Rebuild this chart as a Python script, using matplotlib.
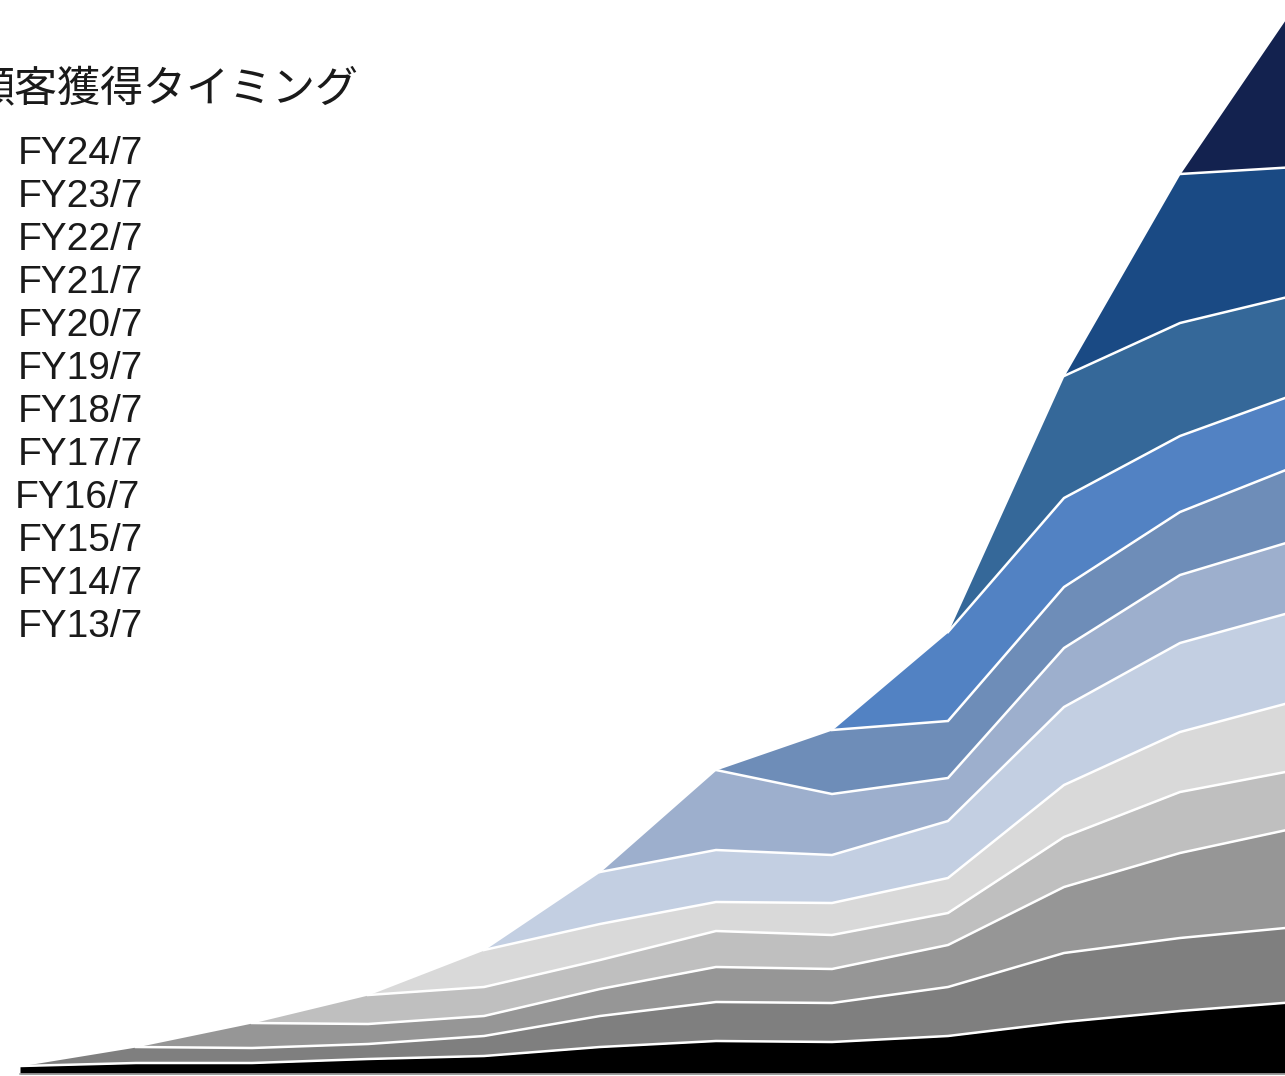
import matplotlib
matplotlib.use("Agg")
import matplotlib.pyplot as plt
import numpy as np

plt.rcParams['font.family'] = ['Liberation Sans', 'Noto Sans CJK JP', 'DejaVu Sans']

# x positions (fiscal years, index 0..11)
periods = ["FY13/7", "FY14/7", "FY15/7", "FY16/7", "FY17/7", "FY18/7",
           "FY19/7", "FY20/7", "FY21/7", "FY22/7", "FY23/7", "FY24/7"]

# cohort values per period (customer-acquisition cohort), 0 before the cohort exists
fy13 = [8, 11, 11, 15, 18, 27, 33, 32, 38, 52, 63, 72]
fy14 = [0, 16, 15, 15, 20, 31, 39, 39, 49, 69, 73, 75]
fy15 = [0, 0, 25, 20, 20, 27, 35, 34, 42, 66, 85, 99]
fy16 = [0, 0, 0, 29, 29, 29, 36, 34, 32, 50, 61, 58]
fy17 = [0, 0, 0, 0, 37, 36, 29, 32, 35, 52, 60, 69]
fy18 = [0, 0, 0, 0, 0, 52, 52, 48, 57, 78, 89, 90]
fy19 = [0, 0, 0, 0, 0, 0, 80, 61, 43, 59, 68, 71]
fy20 = [0, 0, 0, 0, 0, 0, 0, 64, 57, 61, 63, 74]
fy21 = [0, 0, 0, 0, 0, 0, 0, 0, 89, 89, 76, 72]
fy22 = [0, 0, 0, 0, 0, 0, 0, 0, 0, 122, 113, 99]
fy23 = [0, 0, 0, 0, 0, 0, 0, 0, 0, 0, 149, 128]
fy24 = [0, 0, 0, 0, 0, 0, 0, 0, 0, 0, 0, 163]

series = [fy13, fy14, fy15, fy16, fy17, fy18, fy19, fy20, fy21, fy22, fy23, fy24]
labels = periods
colors = ["#000000", "#7f7f7f", "#969696", "#bfbfbf", "#d9d9d9", "#c3cfe2",
          "#9dafcd", "#6e8db8", "#5282c3", "#356899", "#1a4a84", "#13224f"]

legend_title = "顧客獲得タイミング"

W, H = 1285, 1076
fig = plt.figure(figsize=(W / 100, H / 100), dpi=100)
fig.patch.set_facecolor("white")

# axes: x index 0 at px 20, index 11 at px 1296 (clipped at right edge); y 0 at px 1074
ax = fig.add_axes([20 / W, 2 / H, 1276 / W, 1074 / H])
x = np.arange(len(periods))
ax.set_xlim(0, len(periods) - 1)
ax.set_ylim(0, 1074)

data = np.array(series, dtype=float)
cum = np.cumsum(data, axis=0)
bottom = np.zeros(len(periods))
for k in range(len(series)):
    top = cum[k]
    ax.fill_between(x, bottom, top, color=colors[k], linewidth=0, zorder=2)
    bottom = top

# white separators along the top of each cohort, from where the next cohort starts
for k in range(len(series) - 1):
    ax.plot(x[k:], cum[k][k:], color="white", linewidth=1.8, zorder=3,
            solid_joinstyle="miter")

for s in ["top", "right", "left"]:
    ax.spines[s].set_visible(False)
ax.spines["bottom"].set_color("#a6a6a6")
ax.spines["bottom"].set_linewidth(1.2)
ax.set_xticks([])
ax.set_yticks([])
ax.patch.set_alpha(0)

# legend-like text block (title partially cut at the left edge, as in the reference)
fig.text(-28 / W, 1 - 89 / H, legend_title, ha="left", va="center",
         fontsize=31, family=["Noto Sans CJK JP", "DejaVu Sans"], color="#1a1a1a")
for i, lab in enumerate(labels[::-1]):
    base = 164 + 43 * i
    xr = 143 if lab != "FY16/7" else 140
    fig.text(xr / W, 1 - base / H, lab, ha="right", va="baseline",
             fontsize=28, color="#1a1a1a")

fig.savefig("out.png", dpi=100, facecolor="white")
